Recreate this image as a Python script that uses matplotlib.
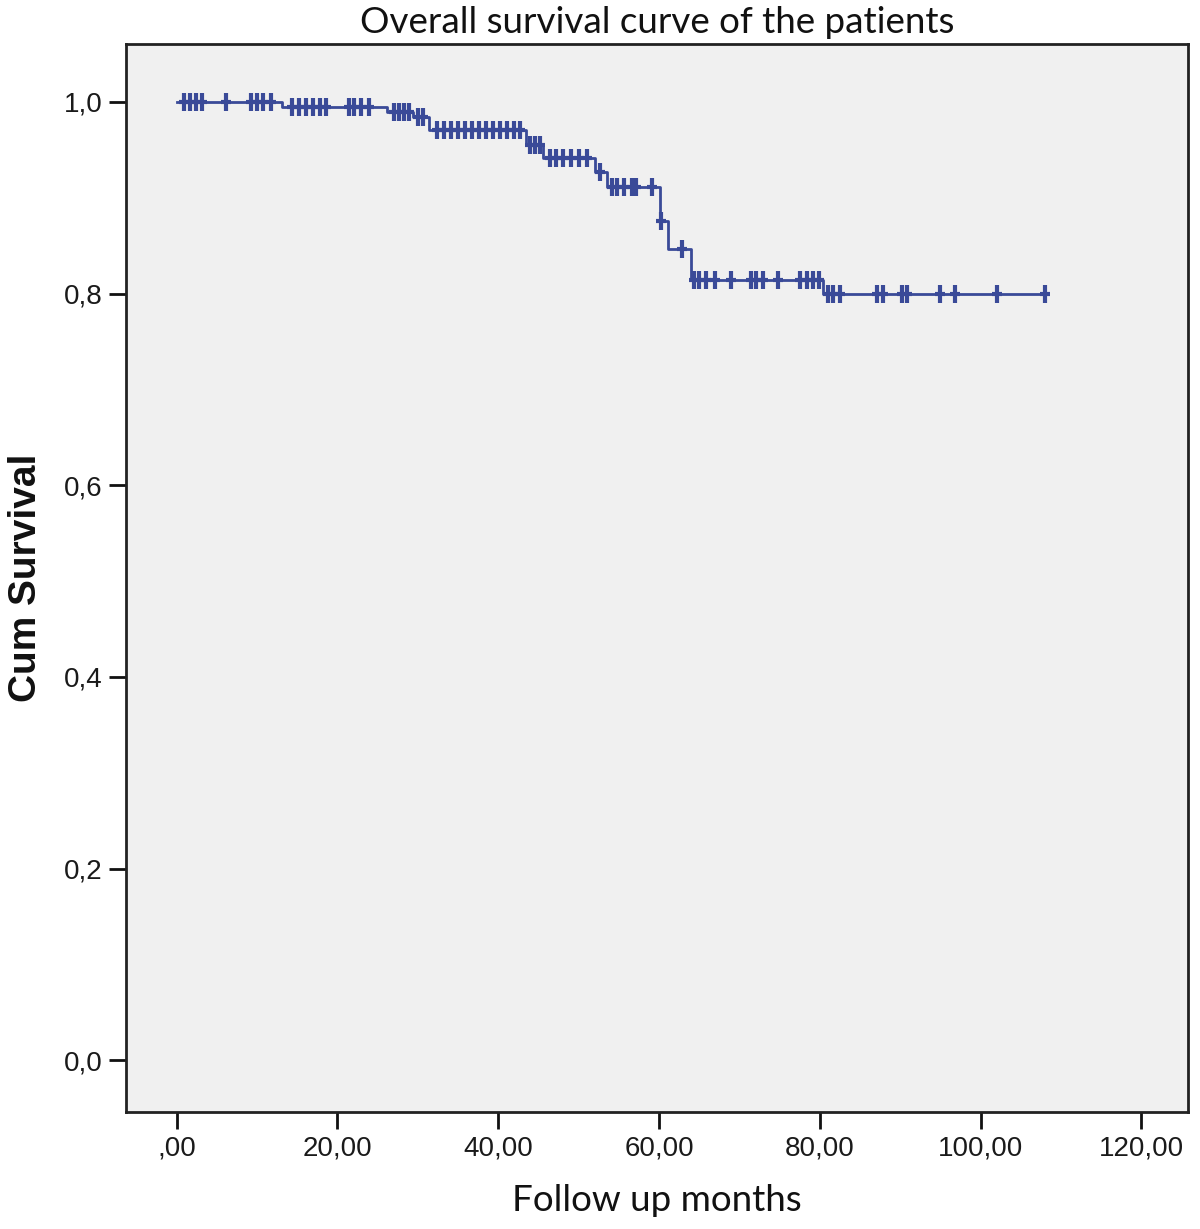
import numpy as np
import matplotlib
matplotlib.use("Agg")
import matplotlib.pyplot as plt

# Kaplan-Meier steps (months, survival after the drop)
event_times = [13.1, 26.2, 29.4, 31.4, 43.4, 45.6, 52.0, 53.5, 60.1, 61.1, 64.0, 80.4]
surv_levels = [0.995, 0.990, 0.984, 0.971, 0.955, 0.942, 0.927, 0.911, 0.876, 0.847, 0.814, 0.800]

# censored patients (months)
censor_times = [0.9, 1.6, 2.4, 3.2, 6.1, 9.2, 10.0, 10.8, 11.7,
                14.3, 15.2, 16.1, 17.0, 17.8, 18.6, 21.4, 22.1, 22.9, 23.9,
                27.0, 27.7, 28.3, 28.9, 30.0, 30.7,
                32.4, 33.3, 34.1, 35.0, 35.9, 36.7, 37.6, 38.5, 39.4, 40.2, 41.1, 42.0, 42.7,
                43.9, 44.6, 45.2,
                46.4, 47.2, 48.1, 49.0, 50.0, 51.1, 52.6,
                54.1, 54.8, 55.7, 56.6, 57.2, 59.1, 60.3, 62.9,
                64.4, 65.0, 65.9, 67.0, 69.0, 71.5, 72.1, 72.9, 74.8, 77.5, 78.4, 79.1, 79.9,
                81.0, 81.7, 82.5, 87.1, 87.8, 90.2, 90.8, 95.0, 96.8, 102.0, 108.0]

x_ticks = [0, 20, 40, 60, 80, 100, 120]
x_labels = [",00", "20,00", "40,00", "60,00", "80,00", "100,00", "120,00"]
y_ticks = [0.0, 0.2, 0.4, 0.6, 0.8, 1.0]
y_labels = ["0,0", "0,2", "0,4", "0,6", "0,8", "1,0"]

line_col = "#3a4a98"

fig = plt.figure(figsize=(12, 12.29), dpi=100)
ax = fig.add_axes([0.105, 0.0952, 0.885, 0.869])
ax.set_facecolor("#f0f0f0")

# step curve
t = np.array([0.0] + event_times + [max(censor_times)])
s = np.array([1.0] + surv_levels + [surv_levels[-1]])
ax.step(t, s, where="post", color=line_col, lw=2)

# censor marks sit on the curve
ct = np.array(censor_times)
idx = np.searchsorted(np.array(event_times), ct, side="right")
cs = np.array([1.0] + surv_levels)[idx]
ax.plot(ct, cs, ls="none", marker="|", ms=13, mew=3, color=line_col)
ax.plot(ct, cs, ls="none", marker="_", ms=7, mew=3, color=line_col)

ax.set_xlim(-6.3, 125.8)
ax.set_ylim(-0.054, 1.0605)
ax.set_xticks(x_ticks)
ax.set_xticklabels(x_labels)
ax.set_yticks(y_ticks)
ax.set_yticklabels(y_labels)

for lab in ax.get_xticklabels() + ax.get_yticklabels():
    lab.set_fontfamily("Liberation Sans")
    lab.set_fontsize(20)
    lab.set_color("#1a1a1a")

ax.tick_params(axis="both", direction="out", length=12, width=2, color="#111111", pad=5)
for sp in ax.spines.values():
    sp.set_color("#222222")
    sp.set_linewidth(2)

ax.set_title("Overall survival curve of the patients", family="Lato", size=26.5, pad=8, color="#111111")
ax.set_xlabel("Follow up months", family="Lato", size=26.5, labelpad=16, color="#111111")
ax.set_ylabel("Cum Survival", family="Liberation Sans", weight="bold", size=28, labelpad=14, color="#111111")

fig.savefig("out.png", dpi=100, facecolor="white")
